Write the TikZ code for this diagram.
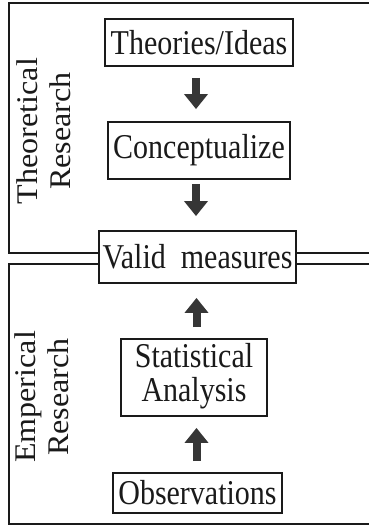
\documentclass[tikz,border=0pt]{standalone}
\usepackage{fontspec}
\setmainfont{Liberation Serif}
\usetikzlibrary{arrows.meta,calc}
\definecolor{ink}{HTML}{1A1A1A}
\definecolor{arr}{HTML}{363636}
\newcommand\vstretch[1]{\scalebox{1}[1.16]{#1}}
\newcommand\lstretch[1]{\scalebox{1.07}[1]{#1}}
\begin{document}
\begin{tikzpicture}[x=1pt,y=-1pt,
  box/.style={draw=ink,line width=1.8pt,fill=white,text=ink,inner sep=0pt,font=\fontsize{30}{27.6}\selectfont,align=center},
  frame/.style={draw=ink,line width=2.4pt},
  side/.style={rotate=90,text=ink,font=\fontsize{30}{33}\selectfont,inner sep=0pt},
  bigarrow/.style={draw=arr,line width=8pt,-{Triangle[width=23pt,length=15pt]}}]
\useasboundingbox (0,0) rectangle (369,527);
\clip (0,0) rectangle (369,527);
% frames
\draw[frame] (385,3) -- (9,3) -- (9,253) -- (385,253);
\draw[frame] (385,264) -- (9,264) -- (9,524) -- (385,524);
% side labels
\node[side] (theo) at (47,131) {\lstretch{\begin{tabular}{@{}c@{}}Theoretical\\Research\end{tabular}}};
\node[side] (emp) at (45,397) {\lstretch{\begin{tabular}{@{}c@{}}Emperical\\Research\end{tabular}}};
% nodes
\node[box,minimum width=188pt,minimum height=47pt] (ideas) at (199,42.5) {\vstretch{Theories/Ideas}};
\node[box,minimum width=182pt,minimum height=57pt] (concept) at (199,150.5) {\vstretch{Conceptualize}};
\node[box,minimum width=197pt,minimum height=52pt] (valid) at (197.5,257) {\vstretch{Valid~~measures}};
\node[box,minimum width=146pt,minimum height=77pt] (stat) at (194,377.5) {\vstretch{\begin{tabular}{@{}c@{}}Statistical\\Analysis\end{tabular}}};
\node[box,minimum width=169pt,minimum height=40pt] (obs) at (197.5,493) {\vstretch{Observations}};
% arrows
\draw[bigarrow,shorten <=11pt,shorten >=12pt] ([xshift=-3pt]ideas.south) -- ([xshift=-3pt]concept.north);
\draw[bigarrow,shorten <=4pt,shorten >=14pt] ([xshift=-3pt]concept.south) -- ([xshift=-3pt]concept.south |- valid.north);
\draw[bigarrow,shorten <=11pt,shorten >=14pt] ([xshift=2.5pt]stat.north) -- ([xshift=2.5pt]stat.north |- valid.south);
\draw[bigarrow,shorten <=11pt,shorten >=11pt] ([xshift=2.5pt]stat.south |- obs.north) -- ([xshift=2.5pt]stat.south);
\end{tikzpicture}
\end{document}
